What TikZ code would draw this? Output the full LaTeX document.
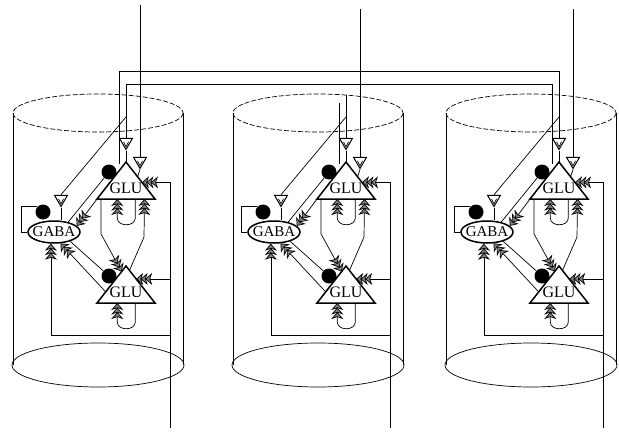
\documentclass[tikz,border=0pt]{standalone}
\usepackage{fontspec}
\setmainfont{Liberation Serif}
\usetikzlibrary{positioning,calc,shapes.geometric,arrows.meta}

\begin{document}
\begin{tikzpicture}[x=1pt,y=-1pt,line width=0.7pt,node distance=104pt,on grid,
    exc/.style={-{Stealth[length=7pt,width=12pt,inset=2pt,sep=-2.5pt,fill=gray]Stealth[length=7pt,width=12pt,inset=2pt,sep=-2.5pt,fill=gray]Stealth[length=7pt,width=12pt,inset=2pt,fill=gray]}},
    glu/.style={inner sep=0pt,font=\fontsize{16}{16}\selectfont},
    cell/.style={line width=1.5pt,line join=miter},
    gaba/.style={ellipse,draw,line width=1.5pt,minimum width=52pt,minimum height=22pt,inner sep=0pt,font=\fontsize{15}{15}\selectfont},
    inh/.style={circle,fill=black,minimum size=15pt,inner sep=0pt},
    syn/.style={regular polygon,regular polygon sides=3,shape border rotate=180,draw,line width=1pt,minimum size=15pt,inner sep=0pt,
      path picture={\draw[line width=0.6pt] ($(path picture bounding box.center)+(-2.5,-2)$) -- ($(path picture bounding box.center)+(0,3)$) -- ($(path picture bounding box.center)+(2.5,-2)$);}}]
  \useasboundingbox (0,0) rectangle (619,436);
  \foreach \m/\dx/\ya/\yc/\yt in {1/0/84/71/5,2/220/95/103/9,3/433/71/84/9}{
    \begin{scope}[xshift=\dx]
      % cylinder
      \draw[dash pattern=on 5pt off 2pt] (98,113) ellipse (85 and 19);
      \draw (98,365) ellipse (86 and 22);
      \draw (13,113) -- (13,365) (183,113) -- (183,365);
      % cells
      \node[glu] (glu1) at (126,188) {GLU};
      \node[glu] (glu2) [below=of glu1] {GLU};
      \draw[cell] (glu1.center) ++(0,-26) coordinate (top1) -- ++(29,37) coordinate (br1) -- ++(-58,0) coordinate (bl1) -- cycle;
      \draw[cell] (glu2.center) ++(0,-26) coordinate (top2) -- ++(29,37) coordinate (br2) -- ++(-58,0) coordinate (bl2) -- cycle;
      \node[gaba] (gaba) at (54,232) {\makebox[0pt]{GABA}};
      \node[inh] (c1) at (109,172) {};
      \node[inh] (c2) [below=of c1] {};
      \node[inh] (cg) at (43,212) {};
      \node[syn] (sa) at (126,142) {};
      \node[syn] (sb) at (140,161) {};
      \node[syn] (sc) at (61,199) {};
      % lines from above
      \coordinate (al\m) at (126,\ya);
      \coordinate (cl\m) at (119,\yc);
      \coordinate (tp) at (140,\yt);
      \coordinate (kn) at (126,117);
      \draw (tp) -- (sb.north);
      \draw (al\m) -- (sa.north);
      \draw (kn) -- (sc.north);
      \draw (cl\m) -- (cl\m |- c1.north);
      \draw (sa.south) -- (top1);
      \draw (sb.south) -- ($(top1)!0.4!(br1)$);
      \draw (sc.south) -- (sc.south |- gaba.north);
      % inhibition
      \draw (gaba.west) -- ++(-6,0) |- (cg.135);
      \draw (gaba.35) -- (c1);
      \draw (gaba.-30) -- (c2);
      % excitation
      \coordinate (inp) at (170,428);
      \coordinate (lp) at (170,335);
      \coordinate (g1r) at ($(top1)!0.55!(br1)$);
      \coordinate (g2r) at ($(top2)!0.35!(br2)$);
      \draw[exc] (inp) |- (g1r);
      \draw[exc] (inp |- g2r) -- (g2r);
      \draw[exc] (lp) -| (gaba.-105);
      \draw[exc] (bl1) -- (gaba.15);
      \draw[exc] ($(bl2)!0.3!(top2)$) -- (gaba.-60);
      \draw[exc] ($(bl1)!0.07!(br1)$) -- ++(0,35) -- ($(top2)!0.15!(bl2)$);
      \coordinate (up) at ($(bl1)!0.82!(br1)$);
      \coordinate (bd) at (144,237);
      \draw[exc] ($(top2)!0.12!(br2)$) -- (bd) -- (up);
      \draw[exc] ($(bl1)!0.66!(br1)$) -- ++(0,19) .. controls +(0,9) and +(0,9) .. ++(-18,0) -- ++(0,-19);
      \draw[exc] ($(bl2)!0.66!(br2)$) -- ++(0,19) .. controls +(0,9) and +(0,9) .. ++(-18,0) -- ++(0,-19);
    \end{scope}
  }
  % bus between the outer columns
  \draw (cl1) -- (al3);
  \draw (al1) -- (cl3);
\end{tikzpicture}
\end{document}
